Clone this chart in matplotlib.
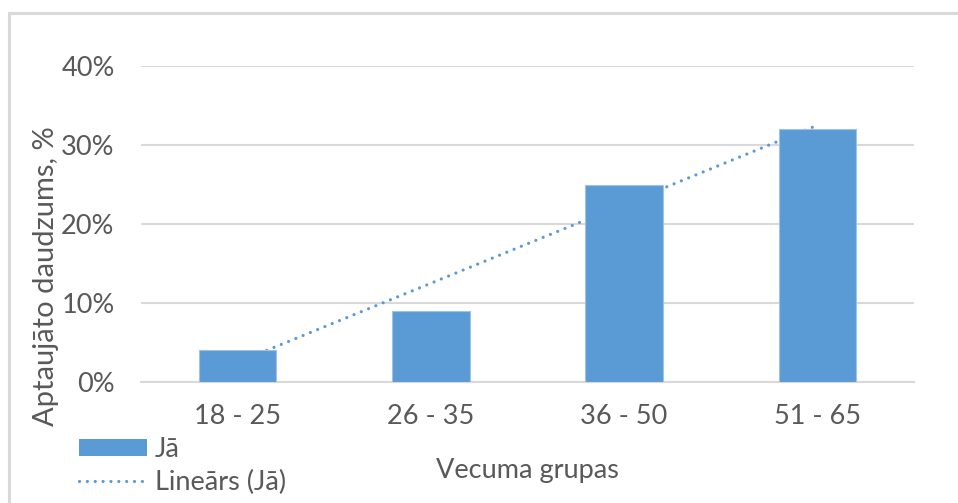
import matplotlib.pyplot as plt
from matplotlib.patches import Rectangle, Patch
from matplotlib.lines import Line2D
from matplotlib.ticker import PercentFormatter
import numpy as np

groups = ['18 - 25', '26 - 35', '36 - 50', '51 - 65']
ja = [4, 9, 25, 32]  # %

plt.rcParams['font.family'] = ['Lato', 'DejaVu Sans']
grey_txt = '#595959'
grid_c = '#D9D9D9'
blue = '#5B9BD5'
fs = 19.5

fig = plt.figure(figsize=(9.58, 5.03), dpi=100)
ax = fig.add_axes([141/958, 1 - 382/503, (914-141)/958, (382-66)/503])

# outer chart frame (runs off the right/bottom edge)
fig.patches.append(Rectangle((9/958, -0.1), 1.2, 1 - 13/503 + 0.1, transform=fig.transFigure,
                             fill=False, edgecolor=grid_c, linewidth=2.2, zorder=0))

x = np.arange(len(groups))
# linear trendline (drawn behind bars)
k, b = np.polyfit(x, ja, 1)
ax.plot(x, k * x + b, color=blue, linewidth=2.3, linestyle=(0, (0.01, 2.45)),
        dash_capstyle='round', zorder=2)
ax.bar(x, ja, width=0.4, color=blue, edgecolor='#9DC3E6', linewidth=0.8, zorder=3)

ax.set_ylim(0, 40)
ax.set_xlim(-0.5, len(groups) - 0.5)
ax.set_yticks([0, 10, 20, 30, 40])
ax.yaxis.set_major_formatter(PercentFormatter(decimals=0))
ax.set_xticks(x)
ax.set_xticklabels(groups)
ax.tick_params(length=0, labelsize=fs, colors=grey_txt)
ax.tick_params(axis='y', pad=19)
ax.tick_params(axis='x', pad=16)
ax.grid(axis='y', color=grid_c, linewidth=1.5, zorder=0)
ax.set_axisbelow(True)
for s in ['top', 'right', 'left']:
    ax.spines[s].set_visible(False)
ax.spines['bottom'].set_color(grid_c)
ax.spines['bottom'].set_linewidth(1.5)

fig.text(46/958, 1 - 276/503, 'Aptaujāto daudzums, %', rotation=90, ha='center', va='center',
         fontsize=21, color=grey_txt)
fig.text(527/958, 1 - 478/503, 'Vecuma grupas', ha='center', va='baseline',
         fontsize=fs, color=grey_txt)

handles = [Patch(facecolor=blue, edgecolor='none'),
           Line2D([], [], color=blue, linewidth=2.3, linestyle=(0, (0.01, 2.45)), dash_capstyle='round')]
leg = fig.legend(handles, ['Jā', 'Lineārs (Jā)'], loc='upper left',
                 bbox_to_anchor=(79/958, 1 - 437/503), frameon=False, fontsize=fs,
                 handlelength=2.5, handleheight=0.6, handletextpad=0.3,
                 labelspacing=0.28, borderpad=0, borderaxespad=0)
for t in leg.get_texts():
    t.set_color(grey_txt)

fig.savefig('out.png', dpi=100)
